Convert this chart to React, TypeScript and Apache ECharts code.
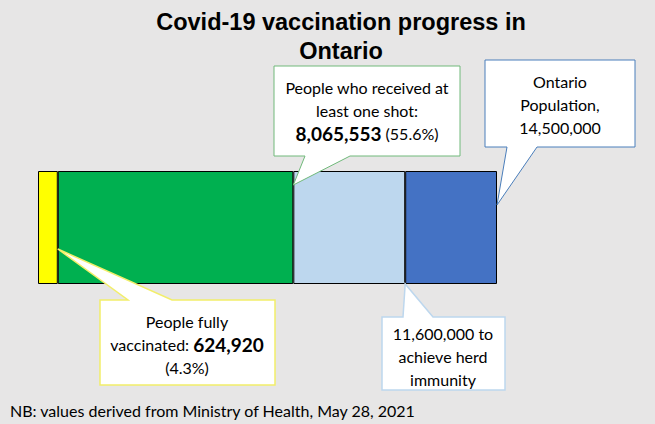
import React, { useEffect, useRef } from "react";
import * as echarts from "echarts";

// Values
const categories = ["Ontario"];
const fullyVaccinated = 624920;
const atLeastOneShot = 8065553;
const herdImmunity = 11600000;
const population = 14500000;

const segmentNames = ["Fully vaccinated", "One shot only", "To herd immunity", "Rest of population"];
const segmentValues = [
  fullyVaccinated,
  atLeastOneShot - fullyVaccinated,
  herdImmunity - atLeastOneShot,
  population - herdImmunity,
];
const segmentColors = ["#ffff00", "#00b050", "#bdd7ee", "#4472c4"];

const titleText = "Covid-19 vaccination progress in\nOntario";
const footnoteText = "NB: values derived from Ministry of Health, May 28, 2021";

const W = 655;
const H = 424;
const GRID = { left: 38, right: W - 497, top: 171, bottom: H - 284 };
const FONT = "Lato, 'Liberation Sans', Arial, sans-serif";
const TITLE_FONT = "'Liberation Sans', Arial, sans-serif";

export default function App() {
  const ref = useRef<HTMLDivElement>(null);

  useEffect(() => {
    document.body.style.margin = "0";
    const chart = echarts.init(ref.current!, null, { renderer: "svg", width: W, height: H });
    const option: any = {
      animation: false,
      backgroundColor: "#e7e6e6",
      grid: { ...GRID, containLabel: false },
      xAxis: { type: "value", min: 0, max: population, show: false },
      yAxis: { type: "category", data: categories, show: false },
      series: segmentNames.map((n, i) => ({
        name: n,
        type: "bar",
        stack: "total",
        barWidth: "100%",
        data: [segmentValues[i]],
        itemStyle: { color: segmentColors[i], borderColor: "#000", borderWidth: 1 },
        emphasis: { disabled: true },
        silent: true,
      })),
    };
    chart.setOption(option);

    const yTop = GRID.top;
    const yBot = H - GRID.bottom;
    const px = (v: number) => (chart.convertToPixel({ xAxisIndex: 0, yAxisIndex: 0 }, [v, 0]) as number[])[0];

    const textStyle = (text: string, x: number, y: number, extra: any = {}) => ({
      type: "text",
      z: 20,
      style: {
        text,
        x,
        y,
        align: "center",
        verticalAlign: "middle",
        fontFamily: FONT,
        fontSize: 16,
        lineHeight: 23,
        fill: "#000",
        rich: { b: { fontFamily: FONT, fontSize: 19, fontWeight: "bold", lineHeight: 23, fill: "#000" } },
        ...extra,
      },
    });

    const tipGreen = [px(atLeastOneShot), yTop + 14];
    const tipBlue = [px(population), yTop + 34];
    const tipYellow = [px(fullyVaccinated), yTop + 78];
    const tipLight = [px(herdImmunity), yBot];

    const graphic = [
      // Title
      textStyle(titleText, 341, 36, {
        fontSize: 23.5,
        fontWeight: "bold",
        lineHeight: 29,
        fontFamily: TITLE_FONT,
      }),
      // Green callout (top)
      {
        type: "polygon",
        z: 10,
        shape: {
          points: [
            [274, 66], [460, 66], [460, 156], [350, 156], tipGreen, [305, 156], [274, 156],
          ],
        },
        style: { fill: "#fff", stroke: "#70b97a", lineWidth: 1 },
      },
      textStyle("People who received at\nleast one shot:\n{b|8,065,553} (55.6%)", 367, 110),
      // Blue callout (population)
      {
        type: "polygon",
        z: 10,
        shape: {
          points: [
            [485, 60], [635, 60], [635, 147], [537, 147], tipBlue, [507, 147], [485, 147],
          ],
        },
        style: { fill: "#fff", stroke: "#4a7ebb", lineWidth: 1 },
      },
      textStyle("Ontario\nPopulation,\n14,500,000", 560, 104),
      // Yellow callout (fully vaccinated)
      {
        type: "polygon",
        z: 10,
        shape: {
          points: [
            [100, 300], [128, 300], tipYellow, [172, 300], [275, 300], [275, 385], [100, 385],
          ],
        },
        style: { fill: "#fff", stroke: "#f2ee6a", lineWidth: 1.5 },
      },
      textStyle("People fully\nvaccinated: {b|624,920}\n(4.3%)", 187, 344),
      // Light blue callout (herd immunity)
      {
        type: "polygon",
        z: 10,
        shape: {
          points: [
            [382, 317], [403, 317], tipLight, [433, 317], [505, 317], [505, 390], [382, 390],
          ],
        },
        style: { fill: "#fff", stroke: "#bdd7ee", lineWidth: 1.5 },
      },
      textStyle("11,600,000 to\nachieve herd\nimmunity", 443, 356),
      // Footnote
      {
        type: "text",
        z: 20,
        style: {
          text: footnoteText,
          x: 10,
          y: 410,
          align: "left",
          verticalAlign: "middle",
          fontFamily: FONT,
          fontSize: 16,
          fill: "#000",
        },
      },
    ];
    chart.setOption({ graphic });

    return () => chart.dispose();
  }, []);

  return <div ref={ref} style={{ position: "absolute", left: 0, top: 0, width: W, height: H }} />;
}
